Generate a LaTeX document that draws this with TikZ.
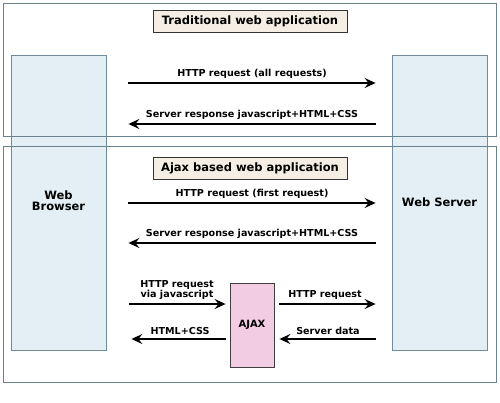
\documentclass[tikz,border=0pt]{standalone}
\usepackage{fontspec}
\setmainfont{DejaVu Sans}
\usetikzlibrary{arrows.meta}

\definecolor{framegray}{HTML}{6A8290}
\definecolor{boxblue}{HTML}{E3EFF5}
\definecolor{boxline}{HTML}{6E8C9A}
\definecolor{titlefill}{HTML}{F5EEE4}
\definecolor{ajaxpink}{HTML}{F2CCE2}

\tikzset{
    frame/.style={draw=framegray, line width=1pt},
    endbox/.style={draw=boxline, fill=boxblue, line width=0.8pt,
        minimum width=95pt, minimum height=295pt, align=center,
        font=\fontsize{11.5}{11}\selectfont\bfseries},
    title/.style={draw=black!80, fill=titlefill, line width=0.8pt,
        minimum width=194pt, minimum height=22pt,
        font=\fontsize{11.5}{13}\selectfont\bfseries},
    flow/.style={line width=2.2pt, -{Stealth[length=11pt,width=10pt,inset=4pt]}},
    lbl/.style={above=3pt, inner sep=0pt, align=center,
        font=\fontsize{9.6}{10.5}\selectfont\bfseries}
}

\begin{document}
\begin{tikzpicture}[x=1pt, y=-1pt]
    \useasboundingbox (0,0) rectangle (500,403);

    % client and server
    \node[endbox] (browser) at (58.5,202.5)
        {\raisebox{5pt}{\begin{tabular}{@{}c@{}}Web\\[-1pt]Browser\end{tabular}}};
    \node[endbox] (server) at (439.5,202.5) {Web Server};
    \node[draw=black!75, fill=ajaxpink, line width=0.8pt, minimum width=44pt,
        minimum height=84pt, font=\fontsize{10}{12}\selectfont\bfseries]
        (ajax) at (252,325) {AJAX};

    % the two frames
    \draw[frame] (3,4) rectangle (496,137);
    \draw[frame] (3,147) rectangle (496,382);
    \node[title] (tradtitle) at (250,21) {Traditional web application};
    \node[title] (ajaxtitle) at (250,168) {Ajax based web application};

    % traditional
    \draw[flow, shorten <=22pt, shorten >=16pt] (browser.east |- 0,83) -- (server.west |- 0,83)
        node[lbl, midway, xshift=3pt] {HTTP request (all requests)};
    \draw[flow, shorten <=16pt, shorten >=22pt] (server.west |- 0,124) -- (browser.east |- 0,124)
        node[lbl, midway, xshift=3pt] {Server response javascript+HTML+CSS};

    % ajax
    \draw[flow, shorten <=22pt, shorten >=16pt] (browser.east |- 0,203) -- (server.west |- 0,203)
        node[lbl, midway, xshift=3pt] {HTTP request (first request)};
    \draw[flow, shorten <=16pt, shorten >=22pt] (server.west |- 0,243) -- (browser.east |- 0,243)
        node[lbl, midway, xshift=3pt] {Server response javascript+HTML+CSS};
    \draw[flow, shorten <=23pt, shorten >=4pt] (browser.east |- 0,304) -- (ajax.west |- 0,304)
        node[lbl, midway, xshift=9pt] {HTTP request\\via javascript};
    \draw[flow, shorten <=5pt, shorten >=16pt] (ajax.east |- 0,304) -- (server.west |- 0,304)
        node[lbl, midway, xshift=-8pt] {HTTP request};
    \draw[flow, shorten <=4pt, shorten >=25pt] (ajax.west |- 0,339) -- (browser.east |- 0,339)
        node[lbl, midway, xshift=12pt] {HTML+CSS};
    \draw[flow, shorten <=16pt, shorten >=5pt] (server.west |- 0,339) -- (ajax.east |- 0,339)
        node[lbl, midway, xshift=-5pt] {Server data};
\end{tikzpicture}
\end{document}
